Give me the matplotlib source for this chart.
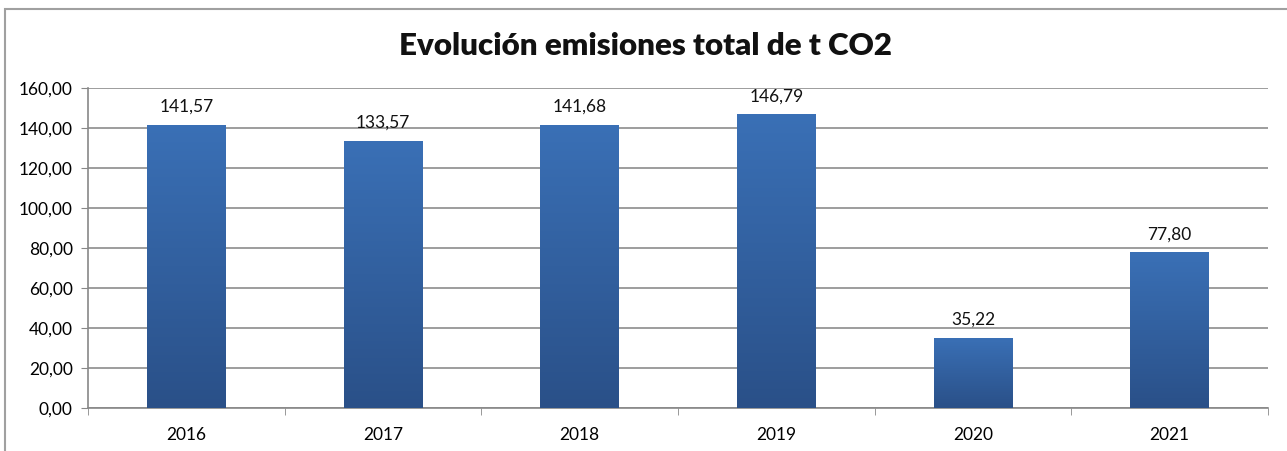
import matplotlib.pyplot as plt
import numpy as np
from matplotlib.patches import Rectangle
from matplotlib.ticker import FixedLocator
from matplotlib.colors import LinearSegmentedColormap

# data
years = ["2016", "2017", "2018", "2019", "2020", "2021"]
emisiones = [141.57, 133.57, 141.68, 146.79, 35.22, 77.80]
yticks = [0, 20, 40, 60, 80, 100, 120, 140, 160]

plt.rcParams['font.family'] = ['Lato', 'DejaVu Sans']

W, H = 1287, 451
fig = plt.figure(figsize=(W / 100, H / 100), dpi=100)
ax = fig.add_axes([88 / W, 1 - 408 / H, (1268 - 88) / W, (408 - 88) / H])

# outer chart border
fig.patches.append(Rectangle((5 / W, -0.05), 1.1, 1 - 9 / H + 0.05,
                             transform=fig.transFigure, fill=False,
                             edgecolor="#a0a0a0", linewidth=1.5))

x = np.arange(len(years))
bars = ax.bar(x, emisiones, width=0.4, color="#2f5f9e", zorder=3)

# vertical gradient on each bar
grad = np.linspace(0, 1, 256).reshape(-1, 1)
cmap = LinearSegmentedColormap.from_list("g", ["#2a5088", "#3a70b6"])
for b in bars:
    im = ax.imshow(grad, cmap=cmap, aspect="auto", origin="lower",
                   extent=[b.get_x(), b.get_x() + b.get_width(), 0, b.get_height()],
                   zorder=4)
    im.set_clip_path(b)

for xi, v in zip(x, emisiones):
    ax.text(xi, v + 5, f"{v:.2f}".replace(".", ","), ha="center", va="bottom",
            fontsize=12.5, color="#111111", zorder=5)

ax.set_xlim(-0.5, len(years) - 0.5)
ax.set_ylim(0, 160)
ax.set_yticks(yticks)
ax.set_yticklabels([f"{t:.2f}".replace(".", ",") for t in yticks], fontsize=12.5)
ax.set_xticks(x)
ax.set_xticklabels(years, fontsize=12.5)
ax.xaxis.set_minor_locator(FixedLocator(np.arange(-0.5, len(years), 1)))
ax.tick_params(axis="x", which="major", length=0, pad=14)
ax.tick_params(axis="x", which="minor", length=5, color="#888888", direction="out")
ax.tick_params(axis="y", length=5, color="#888888", direction="out", pad=6)

ax.grid(axis="y", color="#8c8c8c", linewidth=1.2, zorder=0)
for s in ["top", "right"]:
    ax.spines[s].set_visible(False)
for s in ["left", "bottom"]:
    ax.spines[s].set_color("#888888")
    ax.spines[s].set_linewidth(1.2)

fig.text(646 / W, 1 - 46 / H, "Evolución emisiones total de t CO2", ha="center",
         va="center", fontsize=22.5, fontweight="heavy", color="#111111")

fig.savefig("out.png", dpi=100)
